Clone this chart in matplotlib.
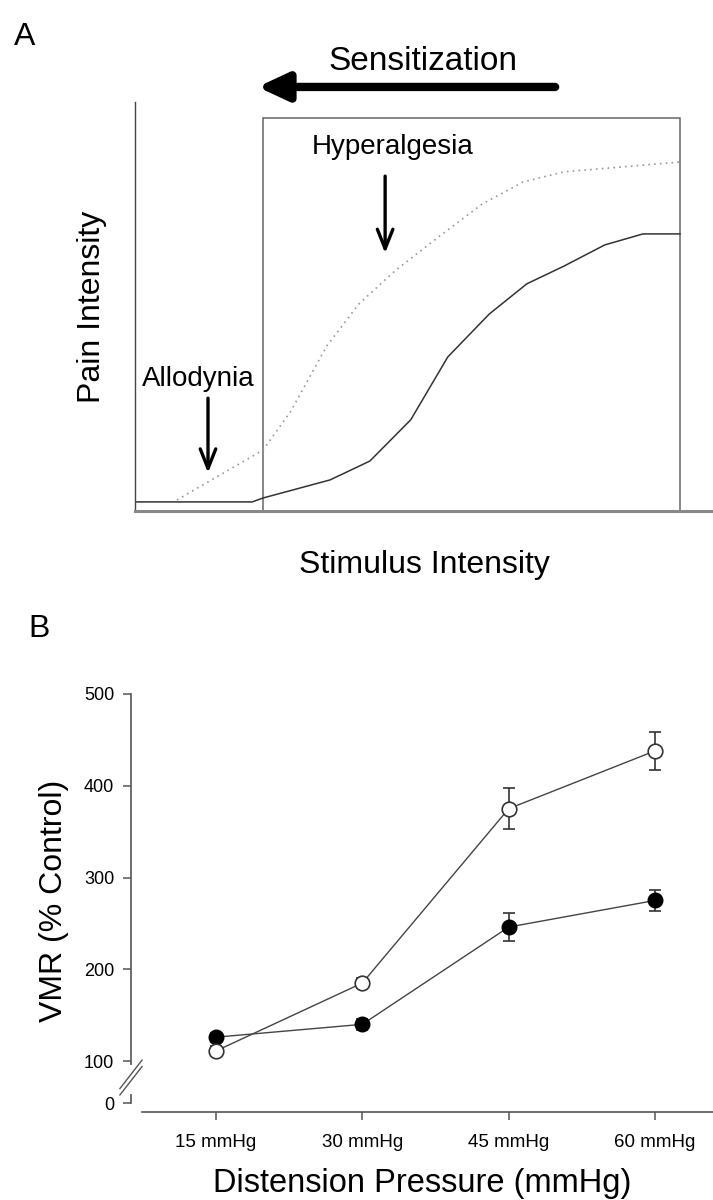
# Two-panel figure: schematic of sensitization (A) and VMR vs distension pressure (B)

import matplotlib
matplotlib.use('Agg')
import matplotlib.pyplot as plt
from matplotlib.patches import Rectangle
import numpy as np

plt.rcParams['font.family'] = ['Liberation Sans', 'DejaVu Sans']

# Panel A - schematic stimulus/response curves (arbitrary units, box spans 0-100)
normal_x = [0, 21.5, 23.5, 35.8, 43.1, 50.6, 57.4, 65.0, 71.9, 78.7, 86.2, 93.2, 100]
normal_y = [2.3, 2.3, 3.3, 7.9, 12.7, 23.2, 39.2, 50.1, 57.8, 62.3, 67.7, 70.5, 70.5]
sens_x = [7.7, 23.5, 28.6, 35.2, 41.1, 47.7, 55.2, 63.7, 71.2, 78.7, 100]
sens_y = [2.8, 15.5, 25.4, 42.0, 52.7, 61.1, 69.2, 78.1, 83.7, 86.3, 88.8]

# Panel B - VMR (% control)
pressures = ['15 mmHg', '30 mmHg', '45 mmHg', '60 mmHg']
open_vmr = [111, 185, 375, 438]
open_err = [5, 5, 22, 21]
filled_vmr = [126, 140, 246, 275]
filled_err = [5, 6, 15, 11]
yticks_b = [100, 200, 300, 400, 500]

fig = plt.figure(figsize=(7.13, 12), dpi=100)

# ---------------- Panel A ----------------
axA = fig.add_axes([0.1893, 0.5742, 0.8107, 0.3408])
axA.set_xlim(0, 106.06)
axA.set_ylim(0, 104.07)

axA.plot(normal_x, normal_y, color='#333333', lw=1.1)
axA.plot(sens_x, sens_y, color='#999999', lw=1.2, linestyle=(0, (1, 2.5)))
axA.add_patch(Rectangle((23.5, 0), 76.5, 100, fill=False, edgecolor='#666666', lw=1.1))
axA.plot([0, 23.5], [0, 0], color='#666666', lw=1.1)

for s in ['top', 'right']:
    axA.spines[s].set_visible(False)
axA.spines['left'].set_color('#444444')
axA.spines['left'].set_linewidth(1.0)
axA.spines['bottom'].set_color('#888888')
axA.spines['bottom'].set_linewidth(2.2)
axA.set_xticks([])
axA.set_yticks([])

axA.set_xlabel('Stimulus Intensity', fontsize=23, labelpad=28)
axA.set_ylabel('Pain Intensity', fontsize=23, labelpad=20)

axA.text(52.8, 114.5, 'Sensitization', fontsize=24, ha='center', va='center', clip_on=False)
axA.annotate('', xy=(22.5, 107.9), xytext=(77.1, 107.9), xycoords='data', annotation_clip=False,
             arrowprops=dict(arrowstyle='-|>,head_length=0.9,head_width=0.42', lw=6,
                             color='black', capstyle='round', shrinkA=0, shrinkB=0, mutation_scale=20))

axA.text(47.3, 92.6, 'Hyperalgesia', fontsize=20, ha='center', va='center')
axA.annotate('', xy=(45.9, 65.6), xytext=(45.9, 85.2),
             arrowprops=dict(arrowstyle='->,head_length=1.0,head_width=0.4', lw=2.4, color='black',
                             shrinkA=0, shrinkB=0, mutation_scale=14))

axA.text(11.6, 33.5, 'Allodynia', fontsize=20, ha='center', va='center')
axA.annotate('', xy=(13.4, 9.7), xytext=(13.4, 28.7),
             arrowprops=dict(arrowstyle='->,head_length=1.0,head_width=0.4', lw=2.4, color='black',
                             shrinkA=0, shrinkB=0, mutation_scale=14))

fig.text(0.035, 0.969, 'A', fontsize=23, ha='center', va='center')

# ---------------- Panel B ----------------
axB = fig.add_axes([0.1837, 0.0733, 0.8163, 0.3522])
x = np.arange(1, len(pressures) + 1)

axB.plot(x, open_vmr, color='#444444', lw=1.0, zorder=2)
axB.plot(x, filled_vmr, color='#444444', lw=1.0, zorder=2)
axB.errorbar(x, filled_vmr, yerr=filled_err, fmt='o', ms=10.5, mfc='black', mec='black',
             ecolor='#333333', elinewidth=1.2, capsize=4.5, capthick=1.2, zorder=3)
axB.errorbar(x, open_vmr, yerr=open_err, fmt='o', ms=10.5, mfc='white', mec='#333333', mew=1.2,
             ecolor='#333333', elinewidth=1.2, capsize=4.5, capthick=1.2, zorder=4)

axB.set_xlim(0.419, 4.396)
axB.set_ylim(44.4, 505)
axB.spines['top'].set_visible(False)
axB.spines['right'].set_visible(False)
axB.spines['left'].set_bounds(54, 500)
axB.spines['bottom'].set_bounds(0.494, 4.396)
for s in ['left', 'bottom']:
    axB.spines[s].set_color('#555555')
    axB.spines[s].set_linewidth(1.2)

axB.set_xticks(x)
axB.set_xticklabels(pressures, fontsize=13.5)
axB.set_yticks([54] + yticks_b)
axB.set_yticklabels(['0'] + [str(v) for v in yticks_b], fontsize=13)
axB.tick_params(axis='both', direction='out', length=6, width=1.1, color='#555555', pad=6)
axB.tick_params(axis='x', pad=10)

# axis break marks between 0 and 100
axB.plot([0, 0], [66, 94], transform=axB.get_yaxis_transform(), color='white', lw=3,
         clip_on=False, zorder=5)
for dy in [0, 7]:
    axB.plot([-0.019, 0.019], [63 + dy, 94 + dy], transform=axB.get_yaxis_transform(),
             color='#555555', lw=1.0, clip_on=False, zorder=6)

axB.set_xlabel('Distension Pressure (mmHg)', fontsize=23.5, labelpad=12)
axB.set_ylabel('VMR (% Control)', fontsize=23, labelpad=11)

fig.text(0.055, 0.476, 'B', fontsize=23, ha='center', va='center')

fig.savefig('out.png', dpi=100)
